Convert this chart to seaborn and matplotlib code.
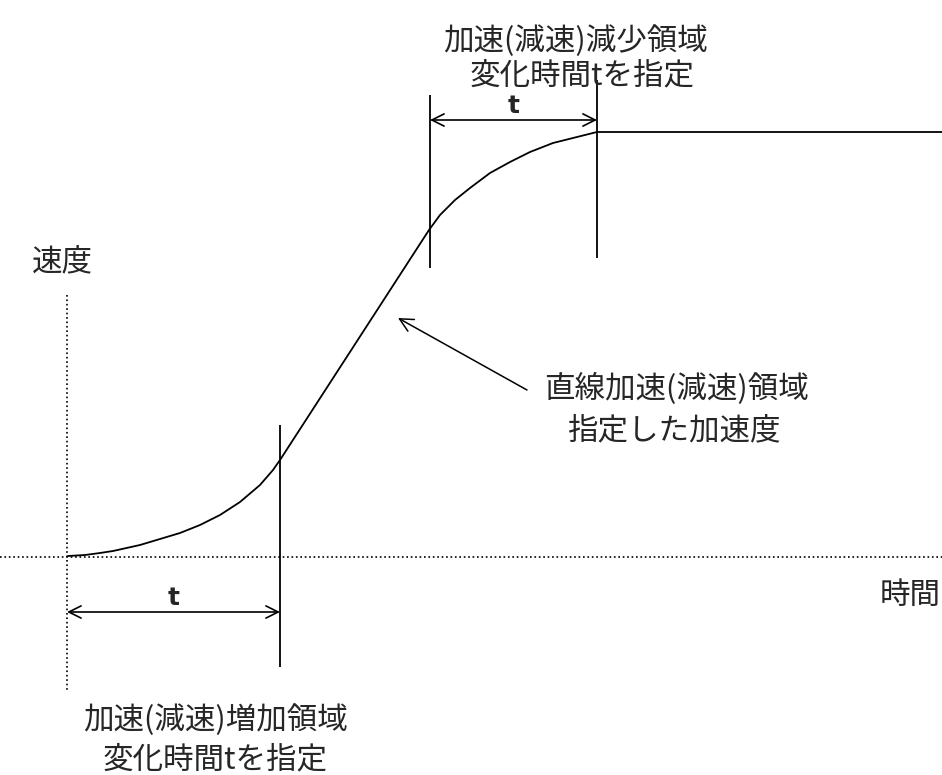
import numpy as np
import pandas as pd
import matplotlib
matplotlib.use("Agg")
import matplotlib.pyplot as plt
import seaborn as sns

# DATA (pixel units, y grows downward)

curve_x = [68, 85, 100, 113, 140, 160, 180, 200, 220, 240, 260, 273, 280,
           429, 440, 455, 470, 490, 510, 530, 553, 577, 597, 942]
curve_y = [556, 555, 553, 551, 545, 539, 533, 525, 515, 502, 485, 470, 460,
           230, 215, 200, 188, 173, 162, 152, 143, 137, 132, 132]

# solid boundary lines: x, top, bottom
bound_x = [280, 430, 597]
bound_top = [425, 95, 80]
bound_bottom = [667, 268, 258]

# dimension arrows: (x_start, x_end, y)
dims = [(67, 280, 612), (430, 597, 120)]
dim_labels = ["t", "t"]

axis_y = 557
axis_x = 67

labels_ja = [
    ("速度", 62, 262, "center"),
    ("時間", 941, 595, "right"),
    ("直線加速(減速)領域", 677, 389, "center"),
    ("指定した加速度", 674, 431, "center"),
    ("加速(減速)増加領域", 216, 720, "center"),
    ("変化時間tを指定", 215, 760, "center"),
    ("加速(減速)減少領域", 576, 41, "center"),
    ("変化時間tを指定", 582, 76, "center"),
]

sns.set_style("white")
plt.rcParams["font.family"] = ["Noto Sans CJK JP", "DejaVu Sans"]

fig = plt.figure(figsize=(9.42, 7.75), dpi=100)
ax = fig.add_axes([0, 0, 1, 1])

df = pd.DataFrame({"x": curve_x, "y": curve_y})
sns.lineplot(data=df, x="x", y="y", sort=False, color="black", linewidth=1.3, ax=ax)

# dotted axes
ax.axhline(axis_y, color="black", linestyle=":", linewidth=1.2)
ax.vlines(axis_x, 295, 690, color="black", linestyle=":", linewidth=1.2)

# boundary lines
ax.vlines(bound_x, bound_top, bound_bottom, color="black", linewidth=1.3)

# dimension arrows
for (x0, x1, y), lab in zip(dims, dim_labels):
    ax.annotate("", xy=(x0, y), xytext=(x1, y),
                arrowprops=dict(arrowstyle="<->", color="black", lw=1.2,
                                shrinkA=0, shrinkB=0, mutation_scale=22))
    ax.text((x0 + x1) / 2, y - 14, lab, ha="center", va="center",
            fontsize=18, fontweight="bold", family="DejaVu Sans")

# pointer arrow to linear region
ax.annotate("", xy=(398, 318), xytext=(527, 390),
            arrowprops=dict(arrowstyle="->", color="black", lw=1.1,
                            shrinkA=0, shrinkB=0, mutation_scale=24))

for txt, x, y, ha in labels_ja:
    ax.text(x, y, txt, ha=ha, va="center", fontsize=22)

ax.set_xlim(0, 942)
ax.set_ylim(775, 0)
ax.set_axis_off()

fig.savefig("out.png", dpi=100)
